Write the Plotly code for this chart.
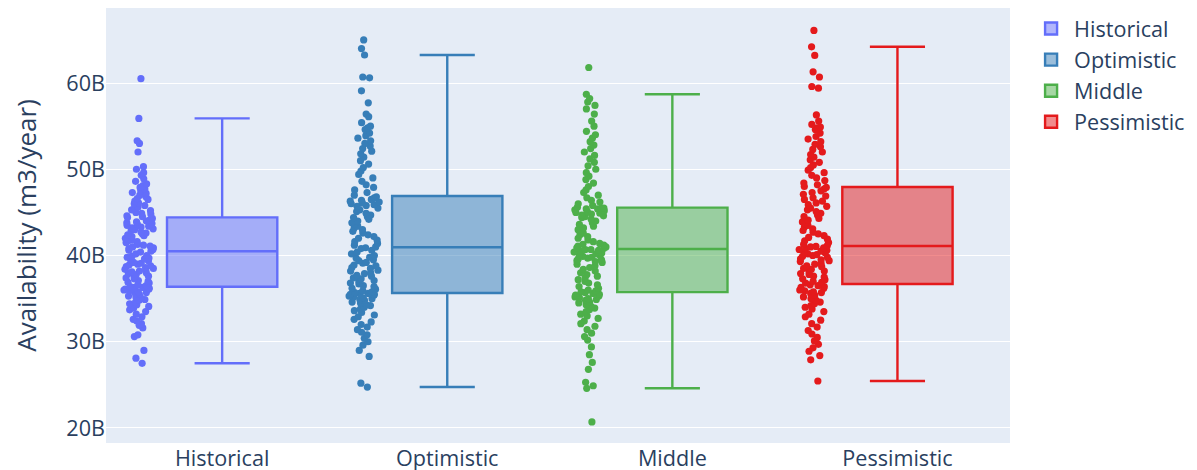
import plotly.graph_objects as go

scenarios = ["Historical", "Optimistic", "Middle", "Pessimistic"]
colors = ["#636EFA", "#377EB8", "#4DAF4A", "#E41A1C"]

# Availability values in billions of m3/year
historical = [
    27.5, 28.1, 29.0, 30.6, 30.8, 31.6, 31.9, 32.1, 32.4, 32.6,
    32.9, 33.2, 33.5, 33.7, 33.9, 34.1, 34.3, 34.4, 34.6, 34.8,
    34.9, 35.1, 35.2, 35.3, 35.5, 35.6, 35.7, 35.8, 35.9, 36.0,
    36.1, 36.1, 36.2, 36.3, 36.3,
    36.4, 36.5, 36.6, 36.8, 36.9, 37.0, 37.1, 37.3, 37.4, 37.5,
    37.6, 37.8, 37.9, 38.0, 38.1, 38.2, 38.3, 38.4, 38.5, 38.6,
    38.7, 38.8, 38.9, 39.0, 39.1, 39.2, 39.4, 39.5, 39.6, 39.7,
    39.8, 39.9, 40.0, 40.2, 40.4,
    40.5, 40.6, 40.7, 40.8, 40.9, 41.0, 41.1, 41.2, 41.3, 41.5,
    41.6, 41.7, 41.8, 41.9, 42.0, 42.2, 42.3, 42.4, 42.5, 42.6,
    42.7, 42.9, 43.0, 43.1, 43.2, 43.3, 43.4, 43.5, 43.6, 43.7,
    43.8, 43.9, 44.0, 44.1, 44.3,
    44.4, 44.5, 44.6, 44.8, 44.9, 45.0, 45.2, 45.3, 45.5, 45.6,
    45.8, 46.0, 46.1, 46.3, 46.5, 46.6, 46.8, 47.0, 47.2, 47.3,
    47.5, 47.7, 47.9, 48.1, 48.3, 48.6, 48.9, 49.3, 49.6, 50.0,
    50.3, 52.0, 53.0, 53.3, 55.9, 60.5,
]

optimistic = [
    24.75, 25.2, 28.3, 29.0, 29.6, 30.0, 30.4, 30.8, 31.1, 31.4,
    31.7, 32.0, 32.3, 32.6, 32.9, 33.1, 33.4, 33.6, 33.8, 34.0,
    34.2, 34.3, 34.5, 34.6, 34.8, 34.9, 35.0, 35.1, 35.2, 35.3,
    35.4, 35.5, 35.5, 35.6, 35.6,
    35.7, 35.8, 35.9, 36.1, 36.2, 36.4, 36.5, 36.7, 36.8, 37.0,
    37.1, 37.3, 37.4, 37.6, 37.7, 37.9, 38.0, 38.2, 38.3, 38.5,
    38.6, 38.8, 38.9, 39.1, 39.2, 39.4, 39.5, 39.7, 39.8, 40.0,
    40.2, 40.4, 40.6, 40.8, 40.9,
    41.0, 41.2, 41.4, 41.6, 41.8, 42.0, 42.2, 42.4, 42.6, 42.8,
    43.0, 43.2, 43.4, 43.6, 43.8, 44.0, 44.2, 44.4, 44.5, 44.7,
    44.9, 45.1, 45.3, 45.5, 45.7, 45.8, 45.9, 46.0, 46.1, 46.2,
    46.3, 46.4, 46.5, 46.7, 46.8,
    47.0, 47.3, 47.6, 47.9, 48.2, 48.6, 49.0, 49.4, 49.8, 50.2,
    50.6, 51.0, 51.4, 51.8, 52.1, 52.4, 52.7, 53.0, 53.3, 53.6,
    53.9, 54.2, 54.6, 54.8, 55.0, 55.4, 56.1, 56.4, 57.7, 59.1,
    60.6, 60.7, 63.25, 64.0, 65.0,
]

middle = [
    20.7, 24.6, 24.9, 25.3, 26.8, 27.6, 28.5, 29.4, 30.2, 30.6,
    31.0, 31.4, 31.8, 32.1, 32.4, 32.7, 33.0, 33.2, 33.5, 33.7,
    33.9, 34.1, 34.3, 34.5, 34.6, 34.8, 34.9, 35.0, 35.1, 35.2,
    35.3, 35.4, 35.5, 35.6, 35.7,
    35.8, 35.9, 36.0, 36.2, 36.4, 36.6, 36.8, 37.0, 37.2, 37.4,
    37.6, 37.8, 38.0, 38.2, 38.4, 38.6, 38.8, 39.0, 39.2, 39.3,
    39.4, 39.5, 39.6, 39.7, 39.8, 39.9, 40.0, 40.1, 40.2, 40.3,
    40.4, 40.5, 40.6, 40.7, 40.7,
    40.8, 40.9, 41.0, 41.1, 41.2, 41.3, 41.4, 41.6, 41.8, 42.0,
    42.2, 42.4, 42.6, 42.8, 43.0, 43.2, 43.4, 43.6, 43.8, 44.0,
    44.2, 44.4, 44.5, 44.6, 44.7, 44.8, 44.9, 45.0, 45.1, 45.2,
    45.3, 45.4, 45.4, 45.5, 45.5,
    45.6, 45.8, 46.0, 46.2, 46.4, 46.7, 47.0, 47.3, 47.6, 48.0,
    48.4, 48.8, 49.2, 49.6, 50.0, 50.4, 50.8, 51.2, 51.6, 52.0,
    52.4, 52.8, 53.2, 53.6, 54.0, 54.4, 55.0, 55.6, 56.4, 57.0,
    57.4, 57.8, 58.2, 58.7, 61.8,
]

pessimistic = [
    25.45, 27.9, 28.4, 28.9, 29.3, 29.7, 30.1, 30.5, 30.9, 31.3,
    31.7, 32.1, 32.5, 32.9, 33.2, 33.5, 33.8, 34.0, 34.2, 34.4,
    34.6, 34.8, 35.0, 35.2, 35.4, 35.6, 35.7, 35.8, 35.9, 36.0,
    36.2, 36.3, 36.4, 36.5, 36.6,
    36.8, 36.9, 37.0, 37.2, 37.3, 37.5, 37.6, 37.8, 37.9, 38.1,
    38.2, 38.4, 38.5, 38.7, 38.8, 39.0, 39.1, 39.3, 39.4, 39.5,
    39.6, 39.8, 39.9, 40.0, 40.1, 40.2, 40.3, 40.4, 40.5, 40.6,
    40.7, 40.8, 40.9, 41.0, 41.05,
    41.15, 41.3, 41.5, 41.7, 41.9, 42.1, 42.3, 42.5, 42.7, 42.9,
    43.1, 43.3, 43.5, 43.7, 43.9, 44.1, 44.3, 44.5, 44.7, 44.9,
    45.1, 45.3, 45.5, 45.7, 45.9, 46.1, 46.3, 46.5, 46.7, 46.9,
    47.1, 47.3, 47.5, 47.7, 47.9,
    48.0, 48.2, 48.4, 48.7, 49.0, 49.3, 49.6, 49.9, 50.2, 50.5,
    50.8, 51.1, 51.4, 51.7, 52.0, 52.3, 52.6, 52.9, 53.2, 53.5,
    53.8, 54.2, 54.6, 54.8, 54.9, 55.2, 55.6, 56.3, 59.4, 59.6,
    60.7, 61.3, 63.2, 64.2, 66.1,
]

series = [historical, optimistic, middle, pessimistic]

fig = go.Figure()
for name, color, vals in zip(scenarios, colors, series):
    fig.add_trace(go.Box(
        x=[name] * len(vals),
        y=vals,
        name=name,
        marker=dict(color=color, size=7.2),
        line=dict(color=color, width=2.4),
        boxpoints="all",
    ))

fig.update_layout(
    template="plotly",
    width=1197,
    height=470,
    autosize=False,
    margin=dict(l=98, r=195, t=0, b=35),
    font=dict(size=21.6),
    boxmode="overlay",
    showlegend=True,
    legend=dict(font=dict(size=21.6), itemwidth=36),
    yaxis=dict(
        title=dict(text="Availability (m3/year)", font=dict(size=26), standoff=38),
        ticksuffix="B",
        range=[18.26, 68.7],
        dtick=10,
        automargin=False,
        gridwidth=1.2,
    ),
    xaxis=dict(
        categoryorder="array",
        categoryarray=scenarios,
        automargin=False,
    ),
)

fig.write_html("out.html")
